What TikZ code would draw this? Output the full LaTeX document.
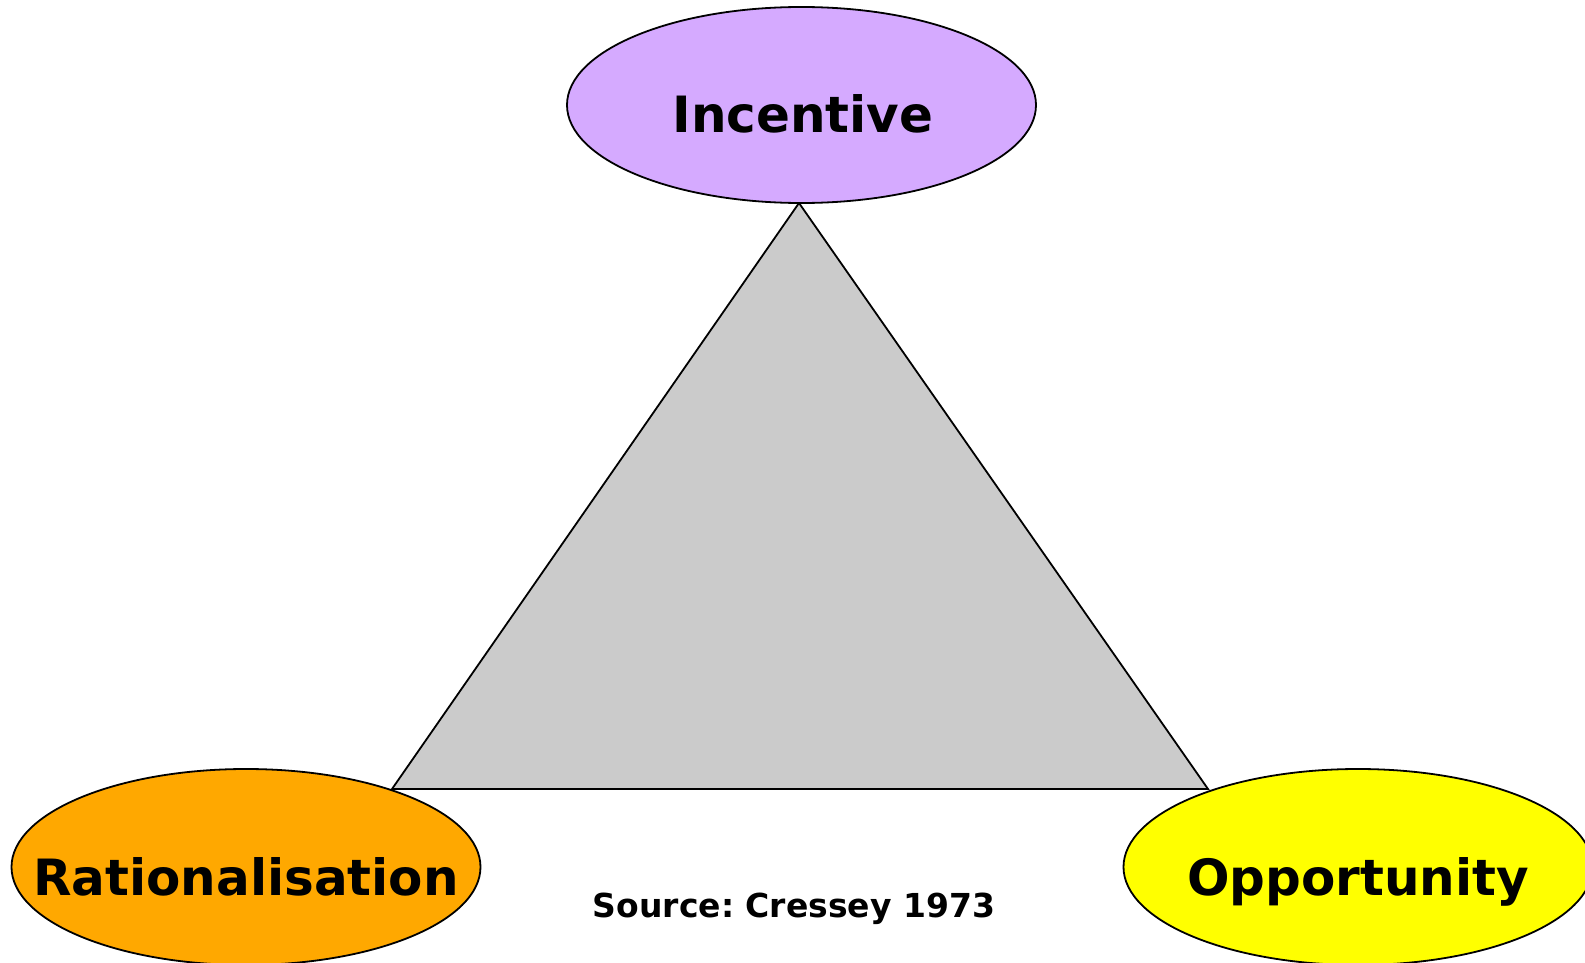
\documentclass[tikz,border=0pt]{standalone}
\usepackage{fontspec}
\setmainfont{DejaVu Sans}
\frenchspacing
\usetikzlibrary{shapes.geometric}
\definecolor{lav}{RGB}{213,170,255}
\definecolor{orng}{RGB}{255,168,0}
\definecolor{yel}{RGB}{255,255,0}
\definecolor{tri}{RGB}{203,203,203}
\tikzset{
  oval/.style={ellipse, draw=black, line width=1.8pt, minimum width=469pt, minimum height=196pt, inner sep=0pt, outer sep=0pt},
  bigtxt/.style={anchor=base, inner sep=0pt, font=\fontsize{50}{60}\selectfont\bfseries},
  srctxt/.style={anchor=base, inner sep=0pt, font=\fontsize{33}{40}\selectfont\bfseries},
}
\begin{document}
\begin{tikzpicture}[x=1pt,y=-1pt]
\useasboundingbox (0,0) rectangle (1585,963);
\coordinate (apex) at (799,203);
\coordinate (bl) at (392,789);
\coordinate (br) at (1208,789);
\draw[fill=tri, line width=1.8pt, line join=miter] (apex) -- (bl) -- (br) -- cycle;
\node[oval, fill=lav] (inc) at (801.5,105) {};
\node[oval, fill=orng] (rat) at (246,867) {};
\node[oval, fill=yel] (opp) at (1358,867) {};
\node[bigtxt] (inct) at (803,133) {Incentive};
\node[bigtxt] (ratt) at (246,895) {Rationalisation};
\node[bigtxt] (oppt) at (1358,895) {Opportunity};
\node[srctxt] (src) at (794,917) {Source: Cressey 1973};
\end{tikzpicture}
\end{document}
